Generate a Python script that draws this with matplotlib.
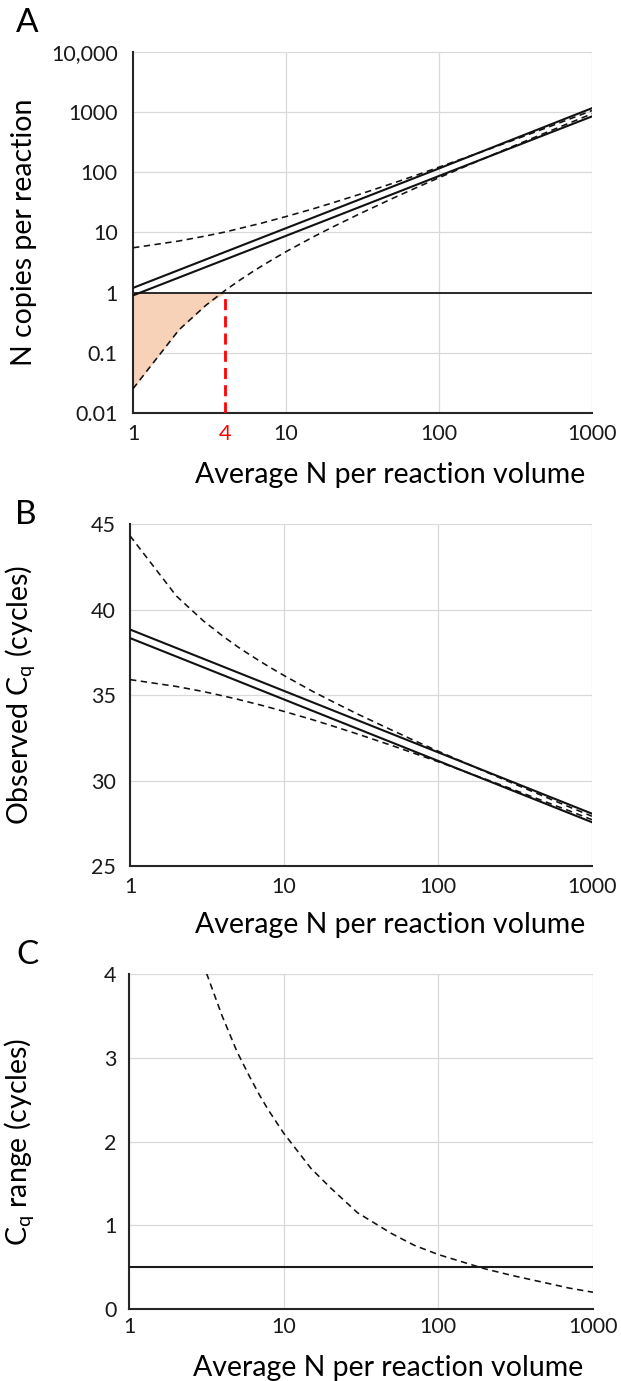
import matplotlib
matplotlib.use("Agg")
import matplotlib.pyplot as plt
import numpy as np

plt.rcParams['font.family'] = ['Lato', 'DejaVu Sans']

# ---------------- data ----------------
# Panel A: copies per reaction vs average N
a_line_x = [1, 10, 100, 1000]
a_solid_upper = [1.2, 11.8, 116, 1165]
a_solid_lower = [0.9, 8.8, 87, 850]

ci_x = [1, 2, 3, 4, 5, 6, 7, 8, 10, 15, 20, 30, 50, 70, 100, 200, 300, 500, 700, 1000]
a_dash_lower = [0.0253, 0.242, 0.619, 1.09, 1.62, 2.20, 2.81, 3.45, 4.80, 8.40, 12.2,
                20.2, 37.1, 54.6, 81.4, 173, 267, 457, 649, 939]
a_dash_upper = [5.57, 7.23, 8.77, 10.2, 11.7, 13.1, 14.4, 15.8, 18.4, 24.7, 30.9,
                42.8, 65.9, 88.4, 122, 230, 336, 546, 754, 1064]
a_threshold = 1
a_limit_x = 4
a_yticks = [0.01, 0.1, 1, 10, 100, 1000, 10000]
a_yticklabels = ["0.01", "0.1", "1", "10", "100", "1000", "10,000"]
a_xticks = [1, 4, 10, 100, 1000]
a_xticklabels = ["1", "4", "10", "100", "1000"]

# Panel B: observed Cq
b_solid_upper = [38.83, 35.24, 31.65, 28.06]
b_solid_lower = [38.33, 34.74, 31.15, 27.56]
b_dash_upper = [44.31, 40.79, 39.33, 38.45, 37.82, 37.35, 36.97, 36.65, 36.14, 35.26, 34.68,
                33.89, 32.95, 32.34, 31.72, 30.54, 29.87, 29.03, 28.48, 27.91]
b_dash_lower = [35.90, 35.50, 35.20, 34.95, 34.75, 34.57, 34.42, 34.28, 34.04, 33.58, 33.23,
                32.72, 32.05, 31.59, 31.10, 30.10, 29.51, 28.75, 28.25, 27.71]
b_yticks = [25, 30, 35, 40, 45]

# Panel C: Cq range
c_x = [3, 4, 5, 6, 7, 8, 10, 15, 20, 30, 50, 70, 100, 200, 300, 500, 700, 1000]
c_range = [4.13, 3.50, 3.07, 2.78, 2.55, 2.37, 2.10, 1.68, 1.45, 1.15, 0.90, 0.76,
           0.65, 0.48, 0.40, 0.31, 0.25, 0.20]
c_threshold = 0.5
c_yticks = [0, 1, 2, 3, 4]

x_ticks = [1, 10, 100, 1000]
x_ticklabels = ["1", "10", "100", "1000"]
xlabel = "Average N per reaction volume"

# ---------------- style ----------------
W, H = 621, 1381
fig = plt.figure(figsize=(W / 100, H / 100), dpi=100)

GRID = '#D9D9D9'
TICK_FS = 15.5
LAB_FS = 20.5
DASH = (0, (4, 2.8))
SOLID_LW = 1.5
DASH_LW = 1.15


def make_ax(left, right, top, bottom):
    return fig.add_axes([left / W, 1 - bottom / H, (right - left) / W, (bottom - top) / H])


def style(ax, ypad, xpad):
    ax.set_xscale('log')
    ax.set_xlim(1, 1000)
    for s in ['top', 'right']:
        ax.spines[s].set_visible(False)
    for s in ['left', 'bottom']:
        ax.spines[s].set_linewidth(1.5)
        ax.spines[s].set_color('#262626')
    ax.grid(True, which='major', color=GRID, linewidth=0.9)
    ax.tick_params(length=0, labelsize=TICK_FS, colors='#1a1a1a')
    ax.tick_params(axis='y', pad=ypad)
    ax.tick_params(axis='x', pad=xpad)
    ax.minorticks_off()
    ax.set_axisbelow(True)


# ---- Panel A ----
axA = make_ax(133, 592, 52, 413)
style(axA, 11, 8)
axA.set_yscale('log')
axA.set_ylim(0.01, 10000)
axA.minorticks_off()
axA.set_yticks(a_yticks)
axA.set_yticklabels(a_yticklabels)
axA.set_xticks(a_xticks)
axA.set_xticklabels(a_xticklabels)
axA.get_xticklabels()[1].set_color('red')
axA.xaxis.grid(False)
for xv in x_ticks[1:]:
    axA.axvline(xv, color=GRID, linewidth=0.9, zorder=0)

cx = np.array(ci_x, dtype=float)
cl = np.array(a_dash_lower, dtype=float)
m = cx <= a_limit_x
axA.fill_between(cx[m], np.minimum(cl[m], a_threshold), a_threshold,
                 color='#F8CFB5', alpha=0.95, linewidth=0, zorder=1)
axA.axhline(a_threshold, color='#1a1a1a', linewidth=1.3, zorder=2)
axA.plot(a_line_x, a_solid_upper, color='#111111', linewidth=SOLID_LW, zorder=3)
axA.plot(a_line_x, a_solid_lower, color='#111111', linewidth=SOLID_LW, zorder=3)
axA.plot(ci_x, a_dash_upper, color='#111111', linewidth=DASH_LW, linestyle=DASH, zorder=3)
axA.plot(ci_x, a_dash_lower, color='#111111', linewidth=DASH_LW, linestyle=DASH, zorder=3)
axA.plot([a_limit_x, a_limit_x], [0.01, a_threshold], color='red', linewidth=2.0,
         linestyle=(0, (4, 2.2)), zorder=4)
axA.set_ylabel("N copies per reaction", fontsize=LAB_FS)
axA.yaxis.set_label_coords(-0.209, 0.5)
axA.set_xlabel(xlabel, fontsize=LAB_FS, va='center')
axA.xaxis.set_label_coords(0.56, -0.172)
fig.text(27 / W, 1 - 23 / H, "A", fontsize=24, ha='center', va='center')

# ---- Panel B ----
axB = make_ax(130, 592, 524, 866)
style(axB, 10, 8)
axB.set_ylim(25, 45)
axB.set_yticks(b_yticks)
axB.set_xticks(x_ticks)
axB.set_xticklabels(x_ticklabels)
axB.plot(a_line_x, b_solid_upper, color='#111111', linewidth=SOLID_LW, zorder=3)
axB.plot(a_line_x, b_solid_lower, color='#111111', linewidth=SOLID_LW, zorder=3)
axB.plot(ci_x, b_dash_upper, color='#111111', linewidth=DASH_LW, linestyle=DASH, zorder=3)
axB.plot(ci_x, b_dash_lower, color='#111111', linewidth=DASH_LW, linestyle=DASH, zorder=3)
axB.set_ylabel(r"Observed C$_\mathregular{q}$ (cycles)", fontsize=LAB_FS)
axB.yaxis.set_label_coords(-0.199, 0.5)
axB.set_xlabel(xlabel, fontsize=LAB_FS, va='center')
axB.xaxis.set_label_coords(0.563, -0.173)
fig.text(26 / W, 1 - 515 / H, "B", fontsize=24, ha='center', va='center')

# ---- Panel C ----
axC = make_ax(129, 593, 974, 1309)
style(axC, 9, 6)
axC.set_ylim(0, 4)
axC.set_yticks(c_yticks)
axC.set_xticks(x_ticks)
axC.set_xticklabels(x_ticklabels)
axC.axhline(c_threshold, color='#1a1a1a', linewidth=SOLID_LW, zorder=3)
axC.plot(c_x, c_range, color='#111111', linewidth=DASH_LW, linestyle=DASH, zorder=3)
axC.set_ylabel(r"C$_\mathregular{q}$ range (cycles)", fontsize=LAB_FS)
axC.yaxis.set_label_coords(-0.198, 0.5)
axC.set_xlabel(xlabel, fontsize=LAB_FS, va='center')
axC.xaxis.set_label_coords(0.558, -0.176)
fig.text(27 / W, 1 - 955 / H, "C", fontsize=24, ha='center', va='center')

fig.savefig("out.png", dpi=100)
